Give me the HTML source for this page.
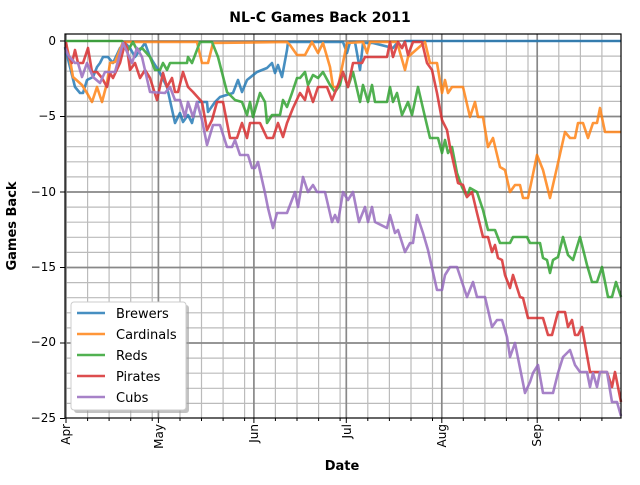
<!DOCTYPE html>
<html><head><meta charset="utf-8"><style>
html,body{margin:0;padding:0;background:#fff;}
svg text{font-family:"DejaVu Sans","Liberation Sans",sans-serif;}
</style></head><body>
<svg width="640" height="480" viewBox="0 0 640 480" xmlns="http://www.w3.org/2000/svg">
<rect width="640" height="480" fill="#fff"/>
<path stroke="#bbb" stroke-width="1.2" fill="none" d="M65 56.1H621M65 71.2H621M65 86.3H621M65 101.4H621M65 131.6H621M65 146.7H621M65 161.8H621M65 176.9H621M65 207.1H621M65 222.2H621M65 237.3H621M65 252.4H621M65 282.6H621M65 297.7H621M65 312.8H621M65 327.9H621M65 358.1H621M65 373.2H621M65 388.3H621M65 403.4H621
M87.6 34V418M109.1 34V418M130.7 34V418M152.2 34V418M180 34V418M201.5 34V418M223.1 34V418M244.6 34V418M275.4 34V418M297 34V418M318.6 34V418M340.1 34V418M367.8 34V418M389.4 34V418M411 34V418M432.5 34V418M463.3 34V418M484.9 34V418M506.4 34V418M528 34V418M558.8 34V418M580.4 34V418M601.9 34V418"/>
<path stroke="#888" stroke-width="1.7" fill="none" d="M65 41H621M65 116.5H621M65 192H621M65 267.5H621M65 343H621M66 34V418M158.4 34V418M253.9 34V418M346.3 34V418M441.8 34V418M537.2 34V418"/>
<g fill="none" stroke-width="2.6" stroke-linejoin="round" opacity="0.82">
<polyline stroke="#1f77b4" points="65,47 70,67 75,87 80,93 83,93 87,80 93,77 97,67 100,63 103,57 108,57 113,63 120,48 125,43 130,48 135,57 140,50 145,43 150,57 160,73 167,87 175,123 180,113 183,122 188,115 192,123 197,102 207,102 208,112 215,102 220,97 233,93 238,80 242,92 247,80 257,72 267,68 272,63 275,73 278,65 282,77 287,50 288,42 340,42 343,42 347,53 350,42 355,42 360,70 363,43 373,43 393,48 397,43 402,48 405,41 621,41"/>
<polyline stroke="#ff7f0e" points="66,43 70,60 73,77 82,85 87,93 92,102 97,87 102,102 107,83 110,63 115,62 123,42 197,42 202,63 208,63 213,43 287,42 290,45 297,55 305,55 312,42 318,53 323,43 330,67 333,87 338,87 347,43 363,42 367,53 370,42 397,42 405,70 408,57 425,42 430,63 437,63 442,93 445,80 448,93 452,87 463,87 470,117 475,102 478,117 483,117 488,147 493,138 500,167 505,170 510,192 515,185 520,185 523,198 528,198 537,155 543,170 550,198 558,163 565,132 570,138 575,138 578,123 583,123 588,138 593,123 597,123 600,108 605,132 621,132"/>
<polyline stroke="#2ca02c" points="66,41 122,41 128,50 133,42 137,50 142,48 150,57 155,70 160,70 163,63 167,70 170,63 187,63 188,57 192,63 200,42 212,42 218,57 227,92 235,100 242,102 247,115 250,102 253,117 260,93 265,102 267,123 272,115 280,115 283,100 287,107 292,93 297,78 300,78 305,72 308,85 313,75 318,78 323,72 330,85 335,92 340,85 343,72 348,87 353,72 360,102 363,85 368,102 372,85 375,102 387,102 390,87 393,102 397,93 402,115 408,102 412,115 418,87 425,117 430,138 438,138 442,153 445,140 448,153 452,147 457,173 462,187 467,197 470,188 477,192 483,210 488,230 495,230 500,243 510,243 513,237 527,237 530,243 540,243 543,258 547,260 550,273 553,260 558,257 563,237 568,255 573,260 580,237 587,265 592,282 597,282 602,267 608,297 612,297 616,282 621,297"/>
<polyline stroke="#d62728" points="66,42 68,55 72,63 75,50 78,63 83,63 88,48 92,72 97,72 102,78 107,87 110,73 113,78 120,63 125,43 127,48 130,70 135,63 140,78 145,70 150,78 157,100 163,73 167,87 172,78 175,92 178,92 183,72 188,87 193,92 202,102 207,130 212,120 217,102 223,102 230,138 237,138 242,123 247,138 250,123 260,123 267,138 273,138 278,123 283,137 287,123 293,108 300,93 305,100 308,87 313,102 318,87 327,87 332,100 338,85 343,72 348,87 353,63 362,63 365,57 387,57 390,42 393,57 398,42 402,48 405,42 408,55 413,42 422,42 427,63 432,70 437,93 442,120 447,130 450,147 458,183 463,185 467,197 472,192 477,213 483,237 488,237 492,252 495,245 498,258 502,260 505,275 510,288 513,275 520,297 523,298 528,318 543,318 548,335 552,335 558,312 565,312 568,327 572,320 575,335 578,335 582,327 590,372 607,372 612,387 615,372 621,402"/>
<polyline stroke="#9467bd" points="65,48 68,55 75,63 78,63 82,77 87,63 93,77 100,83 105,72 115,72 123,43 132,63 137,48 142,57 150,92 165,93 170,87 175,100 180,100 185,117 188,102 193,117 197,102 202,120 207,145 213,125 220,125 227,147 232,147 235,140 240,155 248,155 252,168 255,168 258,162 265,193 268,208 273,228 277,213 287,213 295,192 298,207 303,177 308,192 313,185 317,192 325,192 332,222 335,215 338,222 343,192 348,200 353,192 359,222 365,207 368,222 372,207 375,222 387,228 390,215 395,233 398,230 405,252 410,243 413,243 417,215 423,233 428,250 437,290 442,290 445,275 450,267 457,267 462,282 467,297 473,282 477,297 485,297 492,327 497,320 502,320 507,337 510,357 515,343 525,393 530,382 533,373 538,365 543,393 553,393 558,373 563,357 570,350 575,365 580,372 587,372 590,387 593,373 597,387 600,372 607,372 612,402 617,402 621,416"/>
</g>
<rect x="65" y="34" width="556" height="384" fill="none" stroke="#000" stroke-width="1.2"/>
<path stroke="#000" stroke-width="1" fill="none" d="M60 41H65M60 116.5H65M60 192H65M60 267.5H65M60 343H65M60 418.5H65M66 418V423M158.4 418V423M253.9 418V423M346.3 418V423M441.8 418V423M537.2 418V423
M87.6 418V421M109.1 418V421M130.7 418V421M152.2 418V421M180 418V421M201.5 418V421M223.1 418V421M244.6 418V421M275.4 418V421M297 418V421M318.6 418V421M340.1 418V421M367.8 418V421M389.4 418V421M411 418V421M432.5 418V421M463.3 418V421M484.9 418V421M506.4 418V421M528 418V421M558.8 418V421M580.4 418V421M601.9 418V421"/>
<g font-size="12" text-anchor="end" fill="#000">
<text x="56" y="45">0</text><text x="56" y="120">−5</text><text x="56" y="196">−10</text><text x="56" y="271">−15</text><text x="56" y="346">−20</text><text x="56" y="422">−25</text>
</g>
<g font-size="12" text-anchor="end">
<text transform="translate(70,424) rotate(-90)">Apr</text>
<text transform="translate(163,424) rotate(-90)">May</text>
<text transform="translate(258,424) rotate(-90)">Jun</text>
<text transform="translate(351,424) rotate(-90)">Jul</text>
<text transform="translate(446,424) rotate(-90)">Aug</text>
<text transform="translate(541,424) rotate(-90)">Sep</text>
</g>
<text x="320" y="22" font-size="14" font-weight="bold" text-anchor="middle">NL-C Games Back 2011</text>
<text x="342" y="470" font-size="13" font-weight="bold" text-anchor="middle">Date</text>
<text transform="translate(16,226) rotate(-90)" font-size="13" font-weight="bold" text-anchor="middle">Games Back</text>
<rect x="74" y="305" width="115" height="108" rx="3" fill="#999" opacity="0.6"/>
<rect x="71" y="302" width="115" height="108" rx="3" fill="#fff" stroke="#ccc"/>
<g stroke-width="2.6" opacity="0.82">
<line x1="77" y1="313" x2="105" y2="313" stroke="#1f77b4"/>
<line x1="77" y1="334" x2="105" y2="334" stroke="#ff7f0e"/>
<line x1="77" y1="355" x2="105" y2="355" stroke="#2ca02c"/>
<line x1="77" y1="376" x2="105" y2="376" stroke="#d62728"/>
<line x1="77" y1="397" x2="105" y2="397" stroke="#9467bd"/>
</g>
<g font-size="13">
<text x="116" y="318">Brewers</text><text x="116" y="339">Cardinals</text><text x="116" y="360">Reds</text><text x="116" y="381">Pirates</text><text x="116" y="402">Cubs</text>
</g>
</svg>
</body></html>
